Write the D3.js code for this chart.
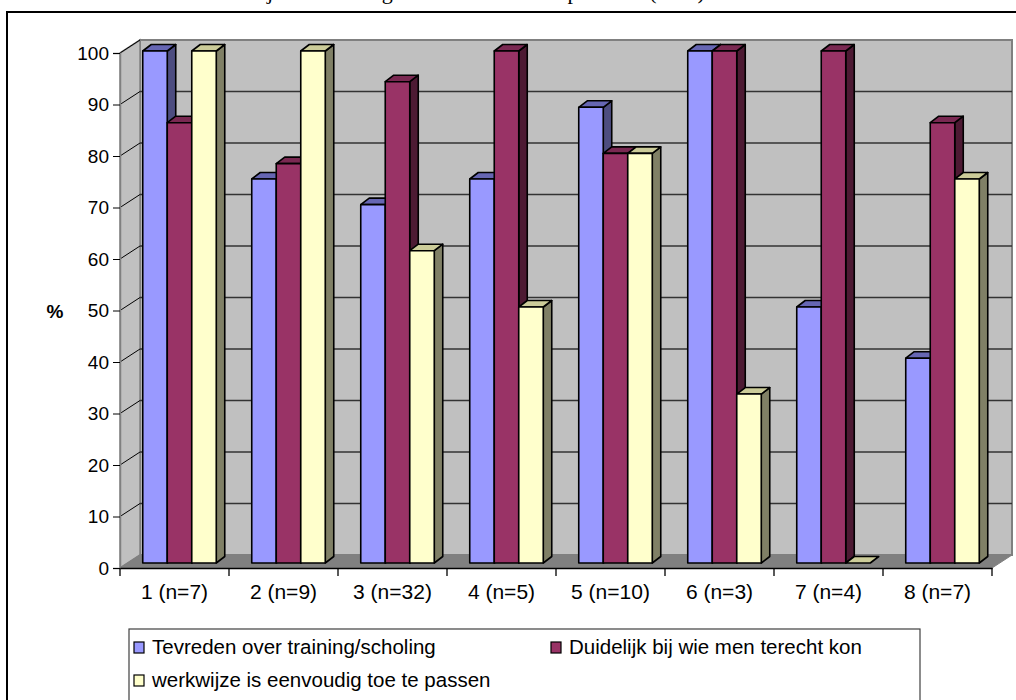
<!DOCTYPE html>
<html>
<head>
<meta charset="utf-8">
<script src="https://cdn.jsdelivr.net/npm/d3@7/dist/d3.min.js"></script>
<style>
  html, body { margin: 0; padding: 0; background: #fff; }
  svg { display: block; }
  text { font-family: "Liberation Sans", Arial, sans-serif; fill: #000; }
</style>
</head>
<body>
<svg id="chart" width="1016" height="700"></svg>
<script>
// Groups along the x axis
const categories = ["1 (n=7)", "2 (n=9)", "3 (n=32)", "4 (n=5)", "5 (n=10)", "6 (n=3)", "7 (n=4)", "8 (n=7)"];
// Series names (legend order)
const seriesNames = ["Tevreden over training/scholing", "Duidelijk bij wie men terecht kon", "werkwijze is eenvoudig toe te passen"];
// Percentages per group for each series
const tevreden = [100, 75, 70, 75, 89, 100, 50, 40];
const duidelijk = [86, 78, 94, 100, 80, 100, 100, 86];
const werkwijze = [100, 100, 61, 50, 80, 33, 0, 75];
// Value axis ticks
const yTicks = [0, 10, 20, 30, 40, 50, 60, 70, 80, 90, 100];

const seriesValues = [tevreden, duidelijk, werkwijze];
// front, top, side colours of each series
const palette = [
  { front: "#9999FF", top: "#6666B3", side: "#4D4D80" },
  { front: "#993366", top: "#7A2952", side: "#4D1A33" },
  { front: "#FFFFCC", top: "#CCCC99", side: "#808066" }
];

const svg = d3.select("#chart");

// Plot geometry
const left = 120, right = 992, base = 568, topY = 53;
const depthX = 20, depthY = -13;          // wall depth
const frontX = 5;                          // bar front plane offset
const barDX = 8.5, barDY = -6.5;           // bar depth

const x = d3.scaleBand(categories, [left, right]).paddingInner(0).paddingOuter(0);
const xs = d3.scaleBand(d3.range(seriesNames.length), [0, x.bandwidth()]).paddingInner(0).paddingOuter(0.724);
const y = d3.scaleLinear([0, 100], [base, topY]);
const yBar = d3.scaleLinear([0, 100], [563, 51]);

// Title, sitting above the frame
svg.append("text")
  .attr("x", 80).attr("y", -1.5)
  .style("font-family", "'Liberation Serif', 'Times New Roman', serif")
  .style("font-size", "22px")
  .text("Oordeel over werkwijze en training van de deelnemers per team (in %)");

// Outer frame
svg.append("rect")
  .attr("x", 7).attr("y", 12).attr("width", 1012).attr("height", 700)
  .attr("fill", "none").attr("stroke", "#000").attr("stroke-width", 2);

const pts = p => p.map(d => d.join(",")).join(" ");

// Back wall
svg.append("polygon")
  .attr("points", pts([[left + depthX, y(100) + depthY], [right + depthX, y(100) + depthY], [right + depthX, base + depthY], [left + depthX, base + depthY]]))
  .attr("fill", "#C0C0C0").attr("stroke", "#808080").attr("stroke-width", 2);
// Side wall
svg.append("polygon")
  .attr("points", pts([[left, y(100)], [left + depthX, y(100) + depthY], [left + depthX, base + depthY], [left, base]]))
  .attr("fill", "#C0C0C0").attr("stroke", "#808080").attr("stroke-width", 1.5);
// Floor
svg.append("polygon")
  .attr("points", pts([[left, base], [left + depthX, base + depthY], [right + depthX, base + depthY], [right, base]]))
  .attr("fill", "#808080").attr("stroke", "#808080").attr("stroke-width", 1);

// Gridlines on the walls
const grid = svg.append("g");
yTicks.filter(t => t > 0 && t < 100).forEach(t => {
  grid.append("line")
    .attr("x1", left + depthX).attr("x2", right + depthX)
    .attr("y1", y(t) + depthY).attr("y2", y(t) + depthY)
    .attr("stroke", "#333").attr("stroke-width", 1.3);
});
yTicks.filter(t => t > 0).forEach(t => {
  grid.append("line")
    .attr("x1", left).attr("x2", left + depthX)
    .attr("y1", y(t)).attr("y2", y(t) + depthY)
    .attr("stroke", "#000").attr("stroke-width", 1);
});

// Y axis
const yAxis = svg.append("g")
  .attr("transform", `translate(${left},0)`)
  .call(d3.axisLeft(y).tickValues(yTicks).tickSize(7).tickPadding(4));
yAxis.select(".domain").attr("stroke", "#808080").attr("stroke-width", 1.5);
yAxis.selectAll(".tick line").attr("stroke", "#000");
yAxis.selectAll(".tick text").style("font-size", "19px").style("font-family", "'Liberation Sans', Arial, sans-serif");

// X axis: labels centred in each group, ticks on group boundaries
const xAxis = svg.append("g")
  .attr("transform", `translate(0,${base})`)
  .call(d3.axisBottom(x).tickSize(0).tickPadding(16));
xAxis.select(".domain").attr("stroke", "#000").attr("stroke-width", 1.3);
xAxis.selectAll(".tick text").style("font-size", "21px").style("font-family", "'Liberation Sans', Arial, sans-serif");
const bounds = categories.map(c => x(c)).concat([right]);
svg.append("g").selectAll("line").data(bounds).join("line")
  .attr("x1", d => d).attr("x2", d => d)
  .attr("y1", base).attr("y2", base + 8)
  .attr("stroke", "#000").attr("stroke-width", 1.3);

// 3D bars
const bars = svg.append("g").attr("stroke", "#000").attr("stroke-width", 1.6).attr("stroke-linejoin", "round");
categories.forEach((c, i) => {
  seriesValues.forEach((vals, s) => {
    const v = vals[i];
    const x0 = x(c) + xs(s) + frontX;
    const x1 = x0 + xs.bandwidth();
    const yt = yBar(v), yb = yBar(0);
    const col = palette[s];
    const g = bars.append("g");
    if (v > 0) {
      g.append("polygon")
        .attr("points", pts([[x1, yt], [x1 + barDX, yt + barDY], [x1 + barDX, yb + barDY], [x1, yb]]))
        .attr("fill", col.side);
    }
    g.append("polygon")
      .attr("points", pts([[x0, yt], [x0 + barDX, yt + barDY], [x1 + barDX, yt + barDY], [x1, yt]]))
      .attr("fill", col.top);
    if (v > 0) {
      g.append("rect")
        .attr("x", x0).attr("y", yt).attr("width", x1 - x0).attr("height", yb - yt)
        .attr("fill", col.front);
    }
  });
});

// Axis title
svg.append("text")
  .attr("x", 55).attr("y", 318)
  .attr("text-anchor", "middle")
  .style("font-size", "19px").style("font-weight", "bold")
  .text("%");

// Legend
const legend = svg.append("g");
legend.append("rect")
  .attr("x", 129).attr("y", 629).attr("width", 791).attr("height", 90)
  .attr("fill", "#fff").attr("stroke", "#404040").attr("stroke-width", 1.2);
const legendPos = [[134, 647], [551, 647], [134, 680]];
seriesNames.forEach((name, s) => {
  const [lx, ly] = legendPos[s];
  legend.append("rect")
    .attr("x", lx).attr("y", ly - 5).attr("width", 10).attr("height", 11)
    .attr("fill", palette[s].front).attr("stroke", "#000").attr("stroke-width", 1.2);
  legend.append("text")
    .attr("x", lx + 18).attr("y", ly + 7)
    .style("font-size", "20.5px")
    .text(name);
});
</script>
</body>
</html>
